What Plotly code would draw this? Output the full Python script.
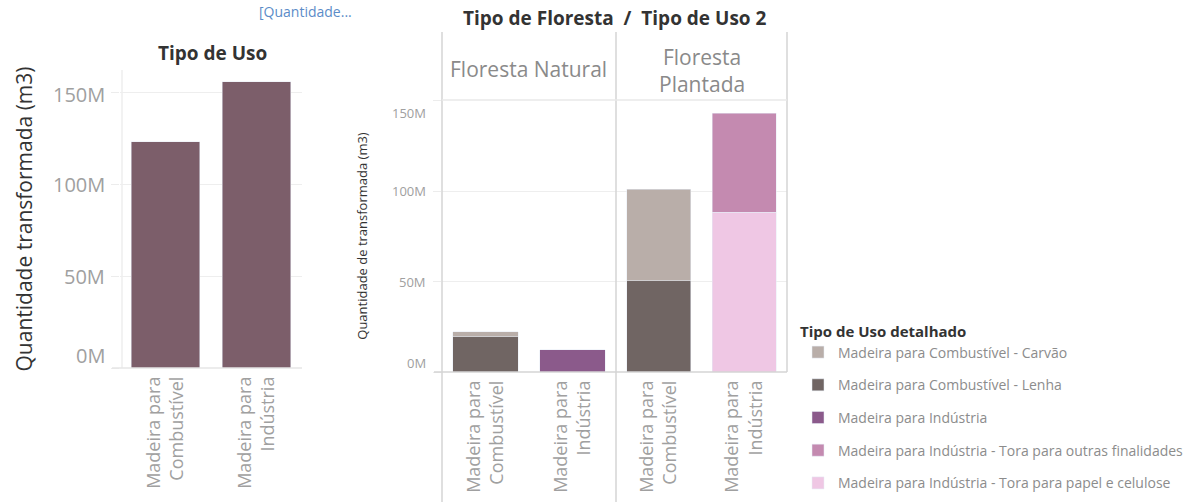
import plotly.graph_objects as go

W, H = 1200, 502

# Dados
tipo_uso = ["Madeira para<br>Combustível", "Madeira para<br>Indústria"]
qtd_tipo_uso = [123.0e6, 155.5e6]

floresta = ["Floresta Natural", "Floresta<br>Plantada"]
uso_detalhado = [
    "Madeira para Combustível - Carvão",
    "Madeira para Combustível - Lenha",
    "Madeira para Indústria",
    "Madeira para Indústria - Tora para outras finalidades",
    "Madeira para Indústria - Tora para papel e celulose",
]
uso_pai = [0, 0, 1, 1, 1]  # indice em tipo_uso
natural_qtd = [2.8e6, 19.4e6, 12.2e6, 0, 0]
plantada_qtd = [50.6e6, 50.6e6, 0, 55.0e6, 88.3e6]
cores = ["#b9aea9", "#706563", "#8b5a8b", "#c48ab0", "#efc7e4"]
ordem_pilha = [1, 0, 2, 4, 3]  # de baixo para cima

tick_vals = [0, 50e6, 100e6, 150e6]
tick_text = ["0M", "50M", "100M", "150M"]

FONT = "Open Sans"
CINZA = "#a0a0a0"
ESCURO = "#333333"
LINHA = "#d4d4d4"


def px_x(v):
    return v / W


def px_y(v):
    return 1 - v / H


fig = go.Figure()

# Tipo de Uso (esquerda)
fig.add_trace(go.Bar(
    x=tipo_uso, y=qtd_tipo_uso, marker_color="#7c5e6a",
    showlegend=False, xaxis="x", yaxis="y",
))

# Tipo de Floresta / Tipo de Uso 2 (direita)
for eixo, valores in [("2", natural_qtd), ("3", plantada_qtd)]:
    for i in ordem_pilha:
        if valores[i] == 0:
            continue
        fig.add_trace(go.Bar(
            x=[tipo_uso[uso_pai[i]]], y=[valores[i]],
            name=uso_detalhado[i], marker_color=cores[i],
            legendgroup=uso_detalhado[i], legendrank=i,
            showlegend=eixo == "2" or natural_qtd[i] == 0,
            xaxis="x" + eixo, yaxis="y" + eixo,
        ))

eixo_x = dict(
    type="category", tickangle=-90, showgrid=False, ticks="",
    tickfont=dict(family=FONT, size=18, color=CINZA),
    ticklabelstandoff=4, showline=False, zeroline=False, automargin=False,
)
eixo_y = dict(
    tickvals=tick_vals, gridcolor="#eeeeee", showticklabels=False,
    zeroline=False, showline=False, ticks="outside", ticklen=8,
    tickcolor="#ececec", automargin=False,
)

fig.update_layout(
    width=W, height=H,
    margin=dict(l=0, r=0, t=0, b=0, autoexpand=False),
    paper_bgcolor="white", plot_bgcolor="white",
    barmode="stack", bargap=0.25,
    font=dict(family=FONT),
    xaxis=dict(eixo_x, domain=[px_x(120), px_x(302)], anchor="y"),
    yaxis=dict(eixo_y, domain=[px_y(368), px_y(70)], range=[0, 162e6],
               anchor="x", title=dict(text="Quantidade transformada (m3)",
                                      font=dict(family=FONT, size=21, color=ESCURO),
                                      standoff=72)),
    xaxis2=dict(eixo_x, domain=[px_x(442), px_x(616)], anchor="y2"),
    yaxis2=dict(eixo_y, domain=[px_y(372), px_y(100)], range=[0, 150.5e6],
                anchor="x2", title=dict(text="Quantidade de transformada (m3)",
                                        font=dict(family=FONT, size=13, color=ESCURO),
                                        standoff=62)),
    xaxis3=dict(eixo_x, domain=[px_x(616), px_x(787)], anchor="y3"),
    yaxis3=dict(eixo_y, domain=[px_y(372), px_y(100)], range=[0, 150.5e6],
                ticks="", anchor="x3", matches="y2"),
    legend=dict(
        x=px_x(798), y=px_y(317), xanchor="left", yanchor="top",
        title=dict(text="<b>Tipo de Uso detalhado</b>",
                   font=dict(family=FONT, size=15, color=ESCURO)),
        font=dict(family=FONT, size=14, color="#8c8c8c"),
        tracegroupgap=11.5, bgcolor="rgba(0,0,0,0)",
    ),
)

# rótulos do eixo y: como no original, os extremos ficam puxados para dentro
for eixo, tamanho, xshift, desloc in [
    ("", 20, -13, {0: 13, 150e6: -2}),
    ("2", 13, -14, {0: 9, 150e6: -12}),
]:
    for v, t in zip(tick_vals, tick_text):
        fig.add_annotation(
            text=t, x=0, y=v, xref="x" + eixo + " domain", yref="y" + eixo,
            xanchor="right", yanchor="middle", showarrow=False,
            xshift=xshift, yshift=desloc.get(v, 0),
            font=dict(family=FONT, size=tamanho, color=CINZA),
        )

# títulos e cabeçalhos
anot = [
    dict(text="<b>Tipo de Uso</b>", x=px_x(212), y=px_y(53), size=19, color=ESCURO),
    dict(text="<b>Tipo de Floresta  /  Tipo de Uso 2</b>", x=px_x(615), y=px_y(18),
         size=19, color=ESCURO),
    dict(text=floresta[0], x=px_x(528), y=px_y(69), size=21, color="#8a8a8a"),
    dict(text=floresta[1], x=px_x(702), y=px_y(70), size=21, color="#8a8a8a"),
    dict(text="[Quantidade...", x=px_x(305), y=px_y(12), size=14, color="#5b8cc8"),
]
for a in anot:
    fig.add_annotation(
        text=a["text"], x=a["x"], y=a["y"], xref="paper", yref="paper",
        showarrow=False, xanchor="center", yanchor="middle",
        font=dict(family=FONT, size=a["size"], color=a["color"]),
    )

# linhas dos painéis
linhas = [
    (122, 70, 122, 368, "#eeeeee"),
    (112, 368, 302, 368, "#e6e6e6"),
    (442, 32, 442, 502, LINHA),
    (616, 32, 616, 502, LINHA),
    (787, 32, 787, 372, LINHA),
    (442, 100, 787, 100, "#e8e8e8"),
    (434, 372, 787, 372, LINHA),
]
for x0, y0, x1, y1, cor in linhas:
    fig.add_shape(type="line", xref="paper", yref="paper",
                  x0=px_x(x0), y0=px_y(y0), x1=px_x(x1), y1=px_y(y1),
                  line=dict(color=cor, width=1.5))

fig.write_html("out.html", config={"displayModeBar": False},
               post_script="document.body.style.margin='0';")
